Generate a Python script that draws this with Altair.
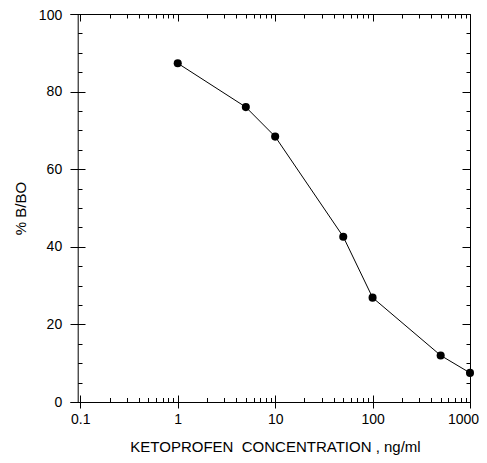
import altair as alt
import pandas as pd

# data
conc = [1, 5, 10, 50, 100, 500, 1000]
pct_b_bo = [87.3, 76.0, 68.4, 42.6, 26.9, 12.0, 7.5]

# tick values
x_major = [0.1, 1, 10, 100, 1000]
x_minor = [0.2, 0.3, 0.4, 0.5, 0.6, 0.7, 0.8, 0.9,
           2, 3, 4, 5, 6, 7, 8, 9,
           20, 30, 40, 50, 60, 70, 80, 90,
           200, 300, 400, 500, 600, 700, 800, 900]
y_major = [0, 20, 40, 60, 80, 100]
y_minor = [5, 10, 15, 25, 30, 35, 45, 50, 55, 65, 70, 75, 85, 90, 95]

x_title = "KETOPROFEN\u00a0 CONCENTRATION , ng/ml"
y_title = "% B/BO"

df = pd.DataFrame({"conc": conc, "pct": pct_b_bo})

FONT = "Liberation Sans"
xs = alt.Scale(type="log", domain=[0.07836, 1000], nice=False)
ys = alt.Scale(domain=[0, 100], nice=False, zero=False)


def tick_axis(orient, values, size, offset):
    return alt.Axis(orient=orient, values=values, labels=False, domain=False,
                    ticks=True, tickSize=size, offset=offset, title=None,
                    grid=False, tickColor="black", tickWidth=1)


def dom_axis(orient):
    return alt.Axis(orient=orient, labels=False, ticks=False, domain=True,
                    domainColor="black", domainWidth=1, title=None, grid=False)


x_lab = alt.Axis(orient="bottom", values=x_major, format="~g", labelFlush=False,
                 labelOverlap=False, ticks=False, domain=True, domainColor="black",
                 domainWidth=1, labelPadding=10, labelFont=FONT, labelFontSize=14,
                 labelColor="black",
                 labelOffset={"condition": {"test": "datum.value >= 1000", "value": -7},
                              "value": 0},
                 title=x_title, titleFont=FONT, titleFontSize=15,
                 titleFontWeight="normal", titleColor="black", titleX=205, titleY=49.5,
                 titleBaseline="alphabetic", grid=False)

y_lab = alt.Axis(orient="left", values=y_major, offset=-7.7, labelFlush=False,
                 labelOverlap=False, ticks=False, domain=True, domainColor="black",
                 domainWidth=1, labelPadding=16, labelFont=FONT, labelFontSize=14,
                 labelColor="black",
                 labelOffset={"condition": {"test": "datum.value >= 100", "value": 1.5},
                              "value": 0},
                 title=y_title, titleFont=FONT, titleFontSize=15,
                 titleFontWeight="normal", titleColor="black", titleX=-52.3, titleY=194,
                 titleBaseline="alphabetic", grid=False)

base = alt.Chart(df)


def enc(xaxis, yaxis):
    return dict(x=alt.X("conc:Q", scale=xs, axis=xaxis),
                y=alt.Y("pct:Q", scale=ys, axis=yaxis))


line = base.mark_line(color="black", strokeWidth=1).encode(**enc(x_lab, y_lab))
pts = base.mark_circle(size=65, color="black", opacity=1).encode(
    **enc(tick_axis("bottom", x_major, 13, -7), tick_axis("left", y_major, 15, -15)))
l3 = base.mark_point(opacity=0).encode(
    **enc(tick_axis("bottom", x_minor, 4.5, -4.5), tick_axis("left", y_minor, 4.3, -12)))
l4 = base.mark_point(opacity=0).encode(**enc(dom_axis("top"), dom_axis("right")))
l5 = base.mark_point(opacity=0).encode(
    **enc(tick_axis("top", x_major, 7, -7), tick_axis("right", y_major, 8, -8)))
l6 = base.mark_point(opacity=0).encode(
    **enc(tick_axis("top", x_minor, 4, -4), tick_axis("right", y_minor, 4, -4)))

chart = alt.layer(line, pts, l3, l4, l5, l6).resolve_axis(
    x="independent", y="independent"
).properties(
    width=400, height=388,
    autosize=alt.AutoSizeParams(type="none"),
    padding={"left": 62, "top": 6, "right": 9, "bottom": 53},
).configure_view(stroke=None)

chart.save("out.html", embed_options={"renderer": "svg", "actions": False})
